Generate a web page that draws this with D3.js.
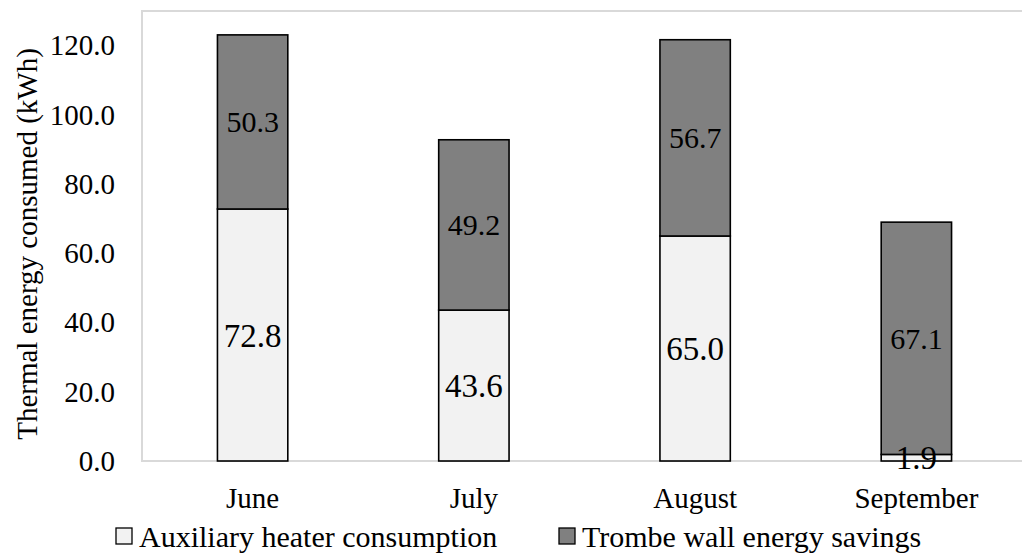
<!DOCTYPE html>
<html>
<head>
<meta charset="utf-8">
<script src="https://cdn.jsdelivr.net/npm/d3@7"></script>
<style>
  html, body { margin: 0; padding: 0; background: #fff; }
  svg { display: block; }
  svg text { font-family: "Liberation Serif", "Times New Roman", serif; }
</style>
</head>
<body>
<svg id="chart" width="1022" height="553"></svg>
<script>
// Monthly thermal energy (kWh)
const months = ["June", "July", "August", "September"];
const auxiliary = [72.8, 43.6, 65.0, 1.9];
const savings = [50.3, 49.2, 56.7, 67.1];
const yTicks = [0, 20, 40, 60, 80, 100, 120];
const seriesNames = ["Auxiliary heater consumption", "Trombe wall energy savings"];
const seriesColors = ["#f2f2f2", "#808080"];

const svg = d3.select("#chart");
const plot = { left: 142, top: 11, right: 1027, bottom: 461 };

const x = d3.scaleBand().domain(months).range([plot.left, plot.right])
  .paddingInner(0.682).paddingOuter(0.341);
const y = d3.scaleLinear().domain([0, 130]).range([plot.bottom, plot.top]);

// Plot area frame
svg.append("rect")
  .attr("x", plot.left).attr("y", plot.top)
  .attr("width", plot.right - plot.left).attr("height", plot.bottom - plot.top)
  .attr("fill", "none").attr("stroke", "#d9d9d9").attr("stroke-width", 2);

// Y axis tick labels
const yAxis = d3.axisLeft(y).tickValues(yTicks).tickFormat(d3.format(".1f")).tickSize(0).tickPadding(27);
const gy = svg.append("g").attr("transform", `translate(${plot.left},0)`).call(yAxis);
gy.attr("font-family", null);
gy.select(".domain").remove();
gy.selectAll("text").attr("font-size", 29).attr("fill", "#000");

// X axis labels
const xAxis = d3.axisBottom(x).tickSize(0).tickPadding(26);
const gx = svg.append("g").attr("transform", `translate(0,${plot.bottom})`).call(xAxis);
gx.attr("font-family", null);
gx.select(".domain").remove();
gx.selectAll("text").attr("font-size", 29).attr("fill", "#000");

// Stacked data
const rows = months.map((m, i) => ({ month: m, aux: auxiliary[i], sav: savings[i] }));
const stack = d3.stack().keys(["aux", "sav"])(rows);

const layers = svg.append("g").selectAll("g").data(stack).join("g")
  .attr("fill", (d, i) => seriesColors[i]);

layers.selectAll("rect").data(d => d).join("rect")
  .attr("x", d => x(d.data.month))
  .attr("width", x.bandwidth())
  .attr("y", d => y(d[1]))
  .attr("height", d => y(d[0]) - y(d[1]))
  .attr("stroke", "#000").attr("stroke-width", 1.6);

// Value labels centred in each segment
stack.forEach((layer, li) => {
  svg.append("g").selectAll("text").data(layer).join("text")
    .attr("x", d => x(d.data.month) + x.bandwidth() / 2)
    .attr("y", d => y((d[0] + d[1]) / 2))
    .attr("dy", "0.35em")
    .attr("text-anchor", "middle")
    .attr("font-size", li === 0 ? 33 : 30)
    .attr("fill", "#000")
    .text(d => d3.format(".1f")(d[1] - d[0]));
});

// Y axis title
svg.append("text")
  .attr("transform", `translate(37,${(plot.top + plot.bottom) / 2 + 8}) rotate(-90)`)
  .attr("text-anchor", "middle")
  .attr("font-size", 29)
  .attr("fill", "#000")
  .text("Thermal energy consumed (kWh)");

// Legend
const legendItems = [
  { name: seriesNames[0], color: seriesColors[0], x: 116 },
  { name: seriesNames[1], color: seriesColors[1], x: 559 }
];
const lg = svg.append("g").selectAll("g").data(legendItems).join("g")
  .attr("transform", d => `translate(${d.x},528)`);
lg.append("rect").attr("width", 16).attr("height", 16)
  .attr("fill", d => d.color).attr("stroke", "#000").attr("stroke-width", 1.3);
lg.append("text").attr("x", 23).attr("y", 8).attr("dy", "0.35em")
  .attr("font-size", 30).attr("fill", "#000").text(d => d.name);
</script>
</body>
</html>
